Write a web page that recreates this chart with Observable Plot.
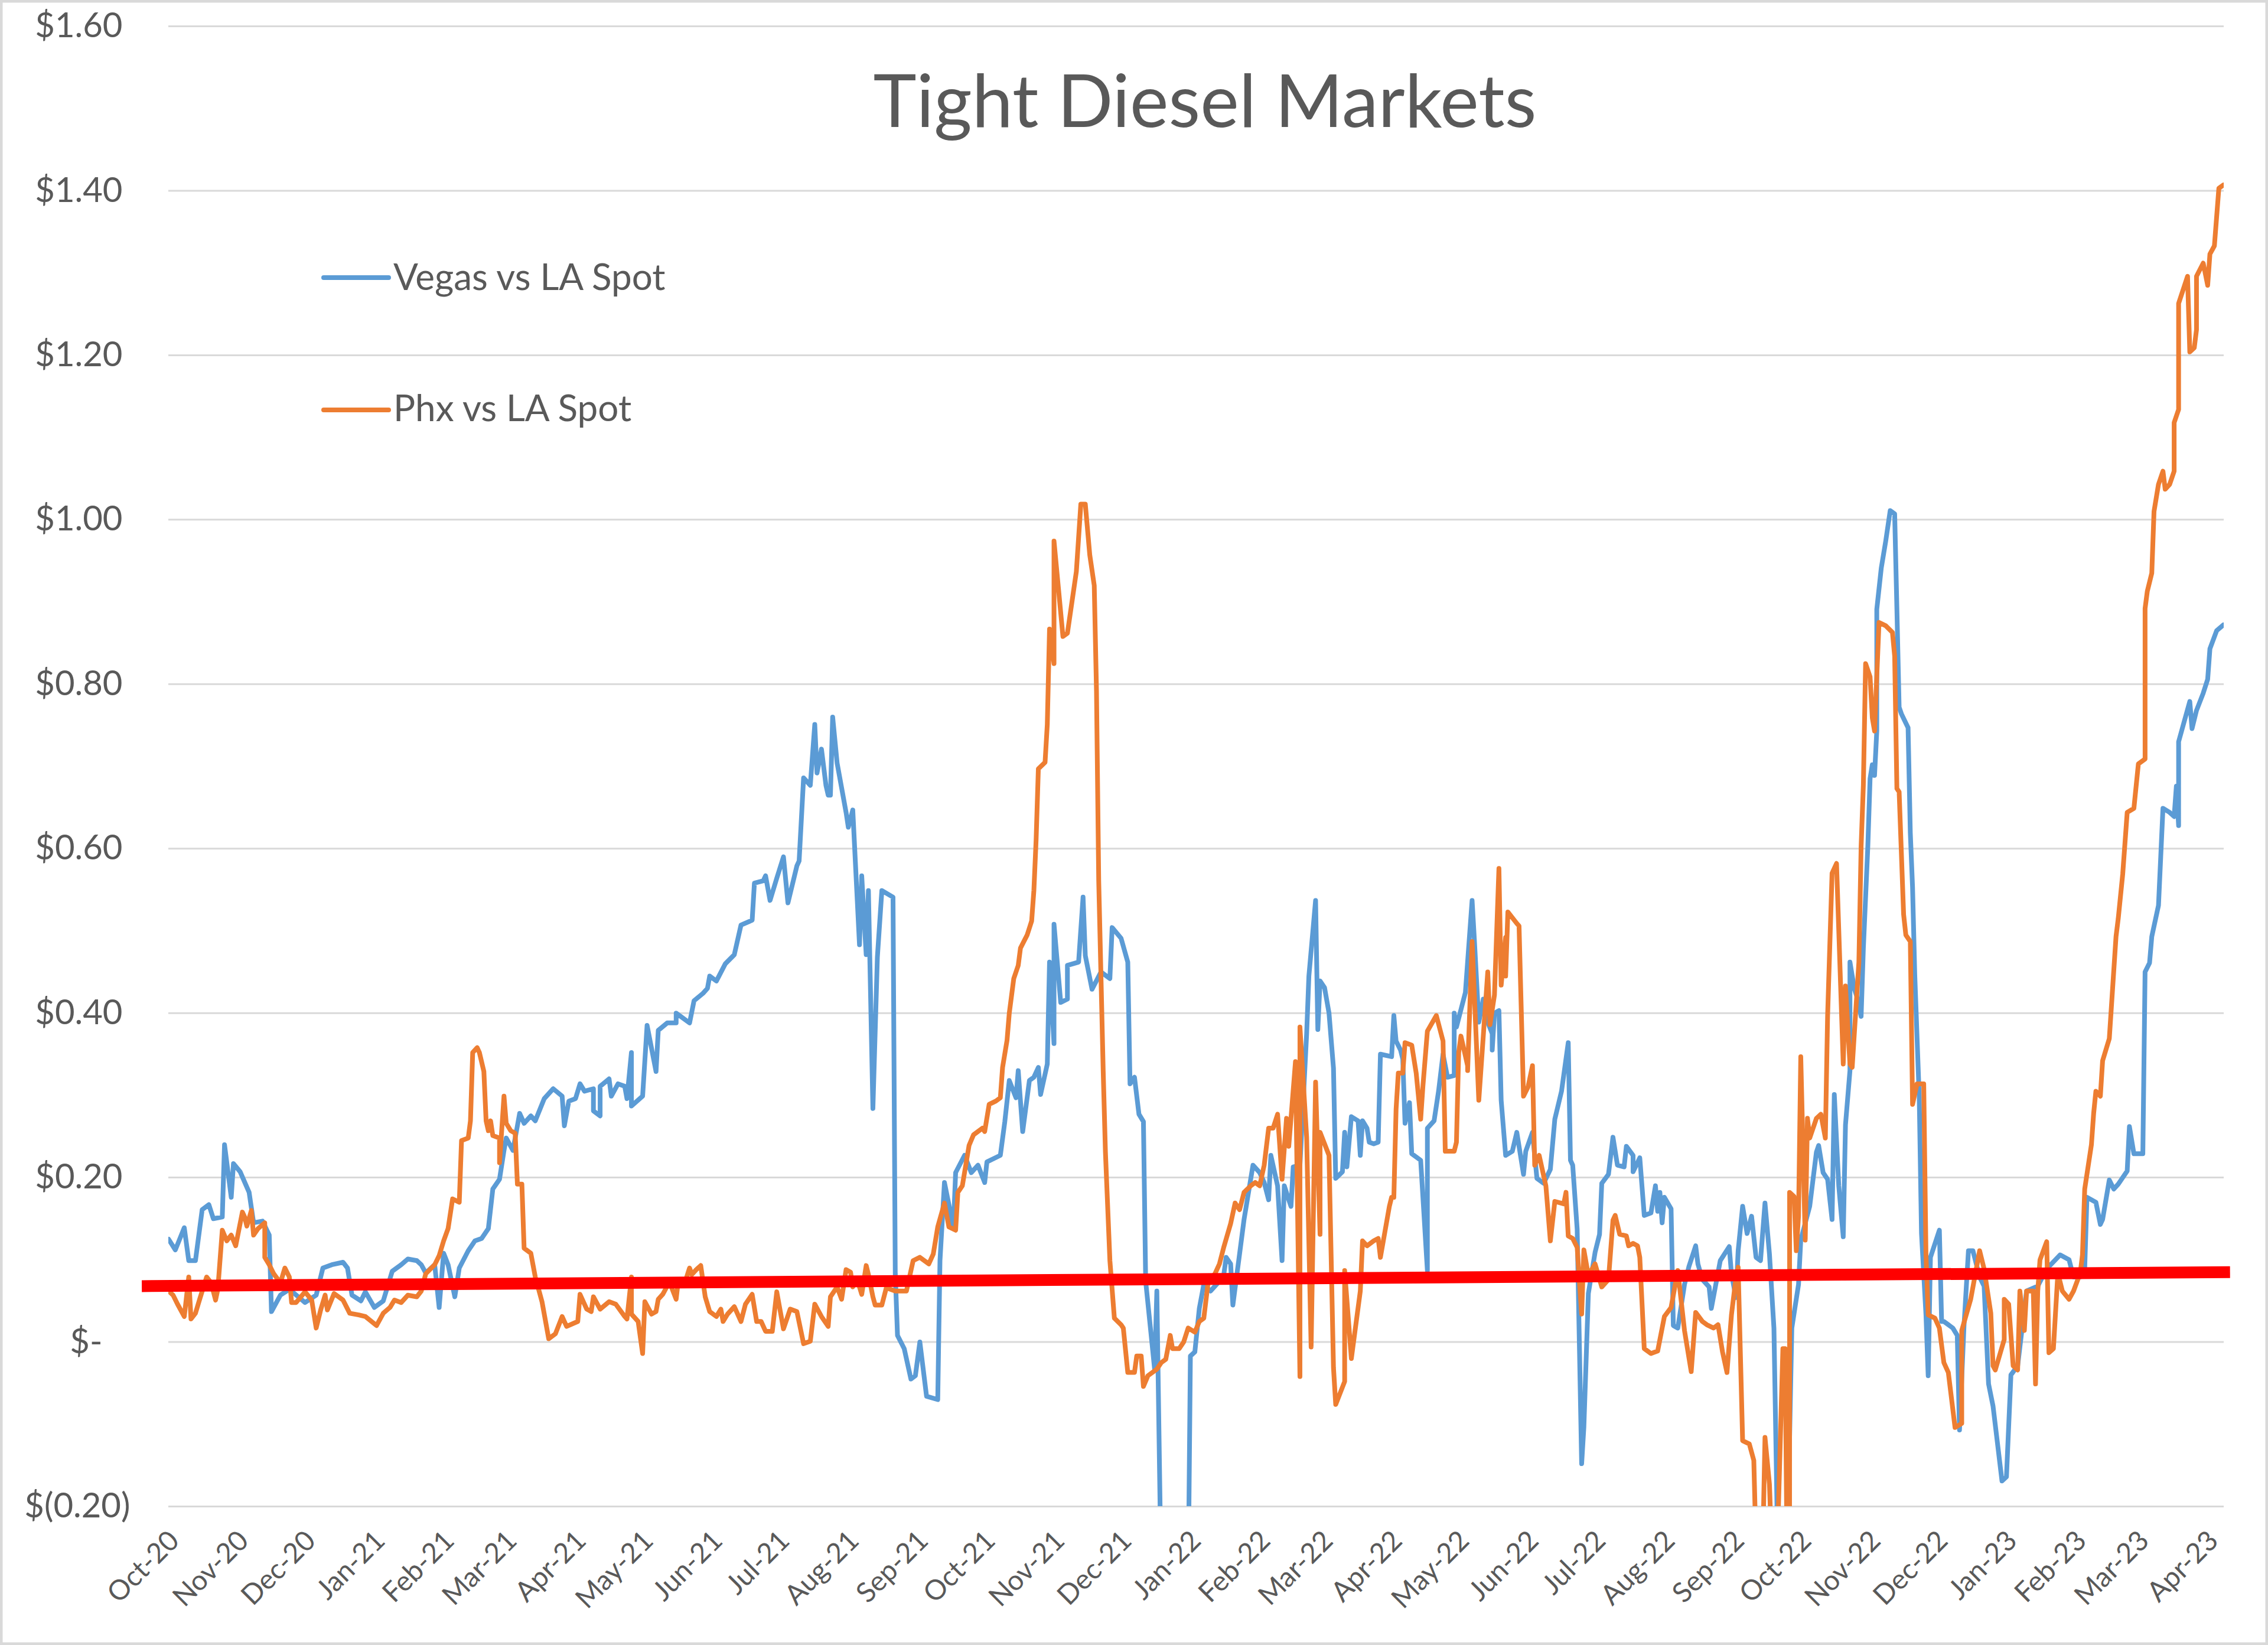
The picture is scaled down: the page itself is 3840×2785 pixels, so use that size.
<!DOCTYPE html>
<html>
<head>
<meta charset="utf-8">
<script src="https://cdn.jsdelivr.net/npm/d3@7"></script>
<script src="https://cdn.jsdelivr.net/npm/@observablehq/plot@0.6"></script>
<style>
  html, body { margin: 0; padding: 0; background: #ffffff; }
  #wrap { position: relative; width: 3840px; height: 2785px; overflow: hidden; background: #ffffff; }
  #chart { position: absolute; left: 0; top: 0; }
  #overlay { position: absolute; left: 0; top: 0; pointer-events: none; font-family: Lato, "Open Sans", sans-serif; }
</style>
</head>
<body>
<div id="wrap">
  <div id="chart"></div>
  <svg id="overlay" width="3840" height="2785">
    <text x="2040" y="215" text-anchor="middle" font-size="124" fill="#595959">Tight Diesel Markets</text>
    <line x1="548" x2="658" y1="470" y2="470" stroke="#5B9BD5" stroke-width="8" stroke-linecap="round"/>
    <text x="666" y="491" font-size="62" fill="#595959">Vegas vs LA Spot</text>
    <line x1="548" x2="658" y1="694" y2="694" stroke="#ED7D31" stroke-width="8" stroke-linecap="round"/>
    <text x="666" y="713" font-size="62" fill="#595959">Phx vs LA Spot</text>
    <rect x="2" y="2" width="3836" height="2781" fill="none" stroke="#D9D9D9" stroke-width="5"/>
  </svg>
</div>
<script>
// ---- data (day offsets counted from 2020-10-01, values in $/gal) ----
const startDate = "2020-10-01";

const vegasDays = [0,3,7,9,12,15,18,20,24,25,28,29,32,36,38,42,45,46,50,54,58,61,66,69,73,78,80,82,86,88,92,96,100,104,107,111,113,115,119,121,123,125,128,130,134,137,140,143,145,148,150,151,154,156,157,159,162,164,168,172,176,177,179,182,184,186,190,190,193,193,197,198,201,204,205,207,207,212,214,218,219,223,227,227,230,233,235,239,241,242,245,249,253,256,261,262,266,267,269,272,275,277,281,282,284,287,289,290,292,294,295,296,297,299,303,304,306,309,310,312,313,315,317,319,324,325,326,329,332,334,336,339,344,345,347,351,352,356,359,362,365,366,372,374,376,379,380,382,385,387,389,390,393,394,396,396,399,402,402,407,409,410,413,417,421,422,426,429,430,432,434,436,437,441,442,444,448,453,456,457,459,461,463,466,470,472,473,475,476,479,481,485,488,490,492,493,496,498,499,501,502,503,506,509,510,513,514,515,517,519,521,522,525,526,527,529,532,533,534,536,537,539,541,542,547,548,549,551,552,553,555,556,560,563,563,566,568,570,572,575,575,576,580,583,584,586,588,590,592,592,593,595,596,598,601,603,606,607,610,612,615,618,620,623,626,627,628,630,632,633,635,638,640,641,644,646,648,651,652,655,655,658,660,663,665,666,667,668,669,672,673,675,678,680,683,684,686,689,690,694,698,699,701,702,704,706,708,710,712,714,716,718,720,722,724,726,729,730,734,737,738,740,742,744,745,747,749,750,752,752,754,755,757,758,760,761,762,763,764,764,766,768,770,772,773,774,775,778,779,780,781,783,784,786,787,788,792,793,794,796,798,800,801,803,805,807,810,812,814,816,820,822,824,827,831,836,840,846,850,852,855,857,858,862,864,865,868,870,872,876,877,879,883,884,886,887,890,891,892,895,897,898,899,899,904,905,907,910,912,913,916,919];
const vegasValues = [0.125,0.112,0.139,0.099,0.099,0.161,0.167,0.150,0.152,0.240,0.176,0.217,0.207,0.182,0.145,0.147,0.130,0.037,0.057,0.064,0.055,0.048,0.057,0.090,0.094,0.097,0.090,0.057,0.050,0.061,0.042,0.050,0.086,0.094,0.101,0.099,0.094,0.084,0.094,0.042,0.108,0.094,0.055,0.090,0.111,0.123,0.126,0.138,0.186,0.198,0.233,0.248,0.233,0.263,0.278,0.266,0.275,0.269,0.296,0.308,0.299,0.263,0.293,0.296,0.314,0.305,0.308,0.281,0.275,0.311,0.320,0.299,0.314,0.311,0.296,0.352,0.287,0.299,0.385,0.329,0.379,0.388,0.388,0.400,0.394,0.388,0.415,0.424,0.430,0.445,0.439,0.460,0.471,0.507,0.513,0.558,0.561,0.567,0.537,0.564,0.590,0.534,0.579,0.585,0.686,0.677,0.751,0.692,0.721,0.677,0.665,0.665,0.760,0.704,0.644,0.626,0.647,0.483,0.567,0.471,0.549,0.284,0.468,0.549,0.541,0.083,0.008,-0.008,-0.045,-0.041,0.000,-0.066,-0.070,0.099,0.194,0.140,0.206,0.227,0.206,0.215,0.194,0.219,0.227,0.268,0.318,0.297,0.330,0.256,0.318,0.322,0.334,0.301,0.338,0.462,0.363,0.508,0.413,0.417,0.458,0.462,0.541,0.470,0.429,0.450,0.442,0.504,0.491,0.462,0.314,0.322,0.277,0.268,0.074,-0.033,0.062,-0.300,-0.450,-0.450,-0.300,-0.017,-0.012,0.041,0.070,0.062,0.074,0.083,0.103,0.095,0.045,0.107,0.149,0.215,0.206,0.194,0.173,0.227,0.190,0.099,0.190,0.173,0.165,0.213,0.215,0.375,0.445,0.537,0.380,0.439,0.431,0.400,0.333,0.199,0.207,0.255,0.213,0.274,0.269,0.227,0.269,0.260,0.243,0.241,0.243,0.350,0.347,0.397,0.366,0.355,0.344,0.266,0.291,0.229,0.221,0.087,0.260,0.269,0.305,0.350,0.322,0.324,0.400,0.383,0.425,0.537,0.490,0.389,0.417,0.389,0.375,0.355,0.400,0.403,0.294,0.227,0.232,0.255,0.204,0.232,0.255,0.199,0.193,0.210,0.271,0.305,0.364,0.221,0.215,0.137,-0.148,-0.103,0.059,0.109,0.131,0.193,0.204,0.249,0.215,0.213,0.238,0.227,0.207,0.224,0.154,0.157,0.190,0.159,0.182,0.145,0.176,0.162,0.020,0.017,0.070,0.092,0.117,0.095,0.076,0.067,0.041,0.099,0.116,0.083,0.054,0.111,0.165,0.132,0.153,0.103,0.099,0.169,0.107,0.017,-0.300,-0.350,-0.250,0.017,0.070,0.124,0.165,0.231,0.239,0.206,0.198,0.149,0.301,0.190,0.128,0.264,0.330,0.462,0.429,0.421,0.396,0.479,0.603,0.685,0.702,0.689,0.743,0.891,0.941,0.974,1.011,1.007,0.891,0.772,0.764,0.747,0.619,0.553,0.446,0.297,0.132,0.033,-0.041,0.103,0.136,0.025,0.025,0.021,0.017,0.008,-0.107,0.019,0.111,0.111,0.079,0.068,-0.051,-0.078,-0.169,-0.164,-0.040,-0.029,0.062,0.068,0.089,0.106,0.100,0.079,0.079,0.089,0.176,0.170,0.143,0.149,0.197,0.186,0.192,0.208,0.262,0.229,0.229,0.450,0.461,0.493,0.531,0.590,0.649,0.644,0.639,0.676,0.628,0.730,0.779,0.746,0.768,0.789,0.806,0.843,0.865,0.872];

const phxDays = [0,2,4,7,9,10,12,14,17,19,21,22,24,26,28,30,33,34,35,37,38,40,43,43,45,47,50,52,54,55,57,61,64,66,68,70,71,74,78,81,85,88,93,96,99,101,104,107,111,113,115,119,121,123,125,127,130,131,134,135,136,138,139,141,142,143,144,145,148,148,150,151,153,155,156,158,159,162,164,167,170,173,176,178,183,184,187,189,190,193,197,200,204,205,207,207,210,212,213,216,218,219,221,224,227,228,231,233,234,236,238,240,242,245,247,248,250,253,256,258,261,263,265,267,270,272,275,278,281,284,287,289,292,295,296,299,301,303,305,306,308,310,312,313,315,316,319,321,325,330,333,336,338,340,342,344,347,349,352,353,355,358,360,364,365,367,370,372,373,375,376,378,380,381,384,386,387,388,389,392,393,394,396,396,400,402,406,408,410,412,414,415,416,418,419,421,423,426,427,429,432,433,435,436,438,442,444,446,448,449,452,454,456,459,461,463,465,468,470,472,475,477,479,481,484,486,488,490,492,494,496,498,500,501,504,506,506,509,511,513,515,515,519,521,522,526,526,529,533,534,536,539,541,542,546,547,548,549,550,552,553,556,558,560,561,563,567,570,571,575,576,577,578,581,581,583,586,590,591,593,595,596,598,598,599,603,604,606,608,610,611,613,616,618,620,624,625,626,628,630,632,633,635,638,641,644,646,647,649,652,653,655,657,658,660,663,666,669,672,675,678,681,683,686,688,691,693,695,697,699,701,702,704,707,709,710,713,714,716,717,719,722,723,724,725,725,727,728,729,730,732,733,734,737,739,741,742,744,746,749,750,752,753,756,757,758,759,761,762,763,765,768,771,772,773,774,776,777,779,780,782,785,786,787,790,792,794,796,799,802,802,806,810,812,815,816,817,821,821,823,825,827,828,830,831,834,835,836,837,840,841,843,845,847,850,852,855,856,857,860,861,862,864,865,868,871,872,874,876,879,881,884,884,885,887,888,890,892,893,895,897,897,899,899,903,904,906,907,907,910,912,913,915,917,919];
const phxValues = [0.062,0.057,0.046,0.031,0.079,0.028,0.035,0.053,0.079,0.072,0.051,0.064,0.136,0.123,0.130,0.117,0.158,0.152,0.141,0.160,0.130,0.138,0.145,0.103,0.094,0.083,0.072,0.090,0.079,0.048,0.048,0.061,0.051,0.017,0.039,0.057,0.039,0.059,0.051,0.035,0.033,0.031,0.020,0.035,0.042,0.051,0.048,0.057,0.055,0.062,0.083,0.094,0.105,0.123,0.138,0.174,0.170,0.245,0.248,0.269,0.352,0.358,0.352,0.329,0.269,0.257,0.269,0.251,0.248,0.218,0.299,0.266,0.257,0.254,0.192,0.192,0.114,0.108,0.079,0.049,0.004,0.010,0.031,0.019,0.025,0.058,0.040,0.037,0.055,0.040,0.049,0.046,0.031,0.028,0.079,0.034,0.025,-0.014,0.049,0.034,0.037,0.052,0.058,0.073,0.052,0.076,0.073,0.090,0.082,0.088,0.093,0.055,0.037,0.031,0.040,0.025,0.034,0.043,0.025,0.046,0.058,0.025,0.025,0.013,0.013,0.061,0.016,0.040,0.037,-0.002,0.001,0.046,0.031,0.019,0.055,0.067,0.052,0.088,0.085,0.067,0.076,0.058,0.093,0.082,0.055,0.045,0.045,0.066,0.062,0.062,0.099,0.103,0.099,0.095,0.107,0.140,0.169,0.140,0.136,0.182,0.190,0.239,0.252,0.260,0.256,0.289,0.293,0.297,0.334,0.367,0.400,0.442,0.458,0.479,0.495,0.512,0.549,0.611,0.697,0.705,0.751,0.867,0.825,0.974,0.858,0.862,0.937,1.019,1.019,0.957,0.920,0.792,0.561,0.330,0.231,0.099,0.029,0.021,0.017,-0.037,-0.037,-0.017,-0.017,-0.054,-0.041,-0.033,-0.025,-0.021,0.008,-0.008,-0.008,0.000,0.017,0.012,0.025,0.029,0.074,0.083,0.095,0.116,0.144,0.169,0.161,0.182,0.190,0.194,0.190,0.215,0.260,0.260,0.277,0.198,0.272,0.238,0.341,-0.042,0.383,0.249,-0.006,0.316,0.131,0.255,0.227,-0.031,-0.076,-0.048,0.087,-0.020,0.062,0.123,0.117,0.123,0.126,0.103,0.165,0.176,0.176,0.283,0.327,0.327,0.364,0.361,0.327,0.271,0.311,0.378,0.397,0.366,0.232,0.232,0.243,0.352,0.372,0.336,0.330,0.487,0.294,0.450,0.386,0.422,0.576,0.434,0.492,0.445,0.523,0.509,0.506,0.299,0.310,0.336,0.215,0.227,0.190,0.123,0.171,0.168,0.182,0.129,0.126,0.115,0.034,0.112,0.081,0.095,0.067,0.076,0.148,0.154,0.131,0.129,0.117,0.120,0.117,0.103,-0.008,-0.014,-0.011,0.031,0.042,0.087,0.014,-0.036,0.036,0.025,0.021,0.017,0.021,-0.012,-0.037,0.033,0.078,0.091,-0.120,-0.124,-0.144,-0.250,-0.250,-0.116,-0.173,-0.250,-0.300,-0.008,-0.008,-0.300,-0.300,0.182,0.177,0.111,0.153,0.347,0.124,0.272,0.248,0.272,0.277,0.248,0.396,0.570,0.582,0.338,0.433,0.338,0.334,0.462,0.603,0.677,0.825,0.809,0.759,0.743,0.875,0.871,0.863,0.834,0.673,0.669,0.520,0.495,0.487,0.289,0.314,0.314,0.107,0.033,0.029,0.017,-0.025,-0.037,-0.104,-0.099,0.014,0.052,0.111,0.089,0.035,-0.029,-0.034,0.003,0.052,0.046,-0.029,-0.034,0.062,0.014,0.062,0.062,-0.051,0.062,0.100,0.122,-0.013,-0.008,0.084,0.062,0.052,0.062,0.084,0.106,0.186,0.240,0.278,0.305,0.299,0.342,0.369,0.493,0.515,0.569,0.644,0.649,0.703,0.709,0.892,0.913,0.935,1.010,1.043,1.059,1.037,1.043,1.059,1.118,1.134,1.263,1.296,1.204,1.209,1.231,1.296,1.312,1.285,1.323,1.333,1.403,1.407];

const trendDays = [-12, 922];
const trendValues = [0.068, 0.085];

const yTickValues = [-0.2, 0, 0.2, 0.4, 0.6, 0.8, 1.0, 1.2, 1.4, 1.6];
const yTickLabels = ["$(0.20)", "$-", "$0.20", "$0.40", "$0.60", "$0.80", "$1.00", "$1.20", "$1.40", "$1.60"];
const monthLabels = ["Oct-20","Nov-20","Dec-20","Jan-21","Feb-21","Mar-21","Apr-21","May-21","Jun-21","Jul-21","Aug-21","Sep-21","Oct-21","Nov-21","Dec-21","Jan-22","Feb-22","Mar-22","Apr-22","May-22","Jun-22","Jul-22","Aug-22","Sep-22","Oct-22","Nov-22","Dec-22","Jan-23","Feb-23","Mar-23","Apr-23"];

// ---- build tables ----
const t0 = new Date(startDate + "T00:00:00Z");
const asDate = d => new Date(t0.getTime() + d * 864e5);
const vegas = vegasDays.map((d, i) => ({date: asDate(d), value: vegasValues[i]}));
const phx = phxDays.map((d, i) => ({date: asDate(d), value: phxValues[i]}));
const trend = trendDays.map((d, i) => ({date: asDate(d), value: trendValues[i]}));
const monthTicks = monthLabels.map((_, i) => d3.utcMonth.offset(t0, i));
const monthLabelOf = new Map(monthTicks.map((d, i) => [d.getTime(), monthLabels[i]]));
const yLabelOf = new Map(yTickValues.map((v, i) => [v, yTickLabels[i]]));

const axisColor = "#595959";
const chart = Plot.plot({
  width: 3840,
  height: 2785,
  marginLeft: 285,
  marginRight: 75,
  marginTop: 44,
  marginBottom: 235,
  style: {fontFamily: "Lato, 'Open Sans', sans-serif", background: "transparent", color: axisColor},
  x: {type: "utc", domain: [asDate(0), asDate(919.3)]},
  y: {domain: [-0.2, 1.6]},
  marks: [
    Plot.gridY(yTickValues, {stroke: "#D9D9D9", strokeOpacity: 1, strokeWidth: 3}),
    Plot.axisY(yTickValues.filter(v => v > 0), {tickSize: 0, tickPadding: 78, fontSize: 58, tickFormat: v => yLabelOf.get(v), color: axisColor, label: null}),
    Plot.axisY(yTickValues.filter(v => v === 0), {tickSize: 0, tickPadding: 112, fontSize: 58, tickFormat: v => yLabelOf.get(v), color: axisColor, label: null}),
    Plot.axisY(yTickValues.filter(v => v < 0), {tickSize: 0, tickPadding: 65, fontSize: 58, tickFormat: v => yLabelOf.get(v), color: axisColor, label: null}),
    Plot.axisX(monthTicks, {tickSize: 0, tickPadding: 50, dx: 10, tickRotate: -45, fontSize: 47, tickFormat: d => monthLabelOf.get(d.getTime()), color: axisColor, label: null}),
    Plot.line(vegas, {x: "date", y: "value", stroke: "#5B9BD5", strokeWidth: 8, clip: true}),
    Plot.line(phx, {x: "date", y: "value", stroke: "#ED7D31", strokeWidth: 8, clip: true}),
    Plot.line(trend, {x: "date", y: "value", stroke: "#FF0000", strokeWidth: 20, strokeLinecap: "butt"})
  ]
});
document.getElementById("chart").appendChild(chart);
</script>
</body>
</html>
